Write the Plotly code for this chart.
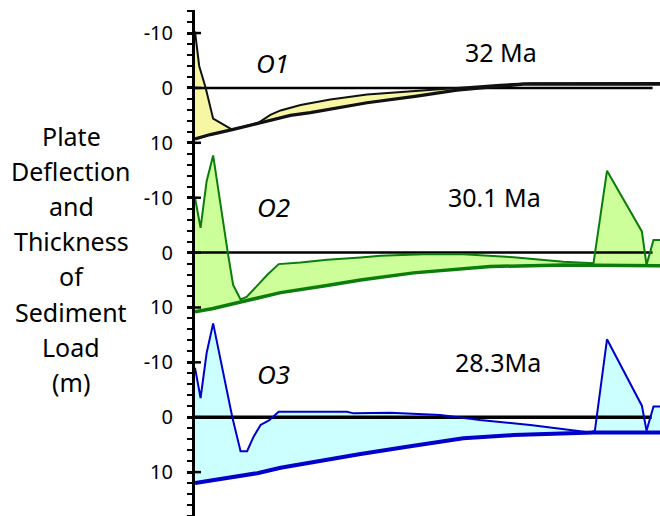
import plotly.graph_objects as go

# ---------------- data (distance along profile, 0-100; values in m, positive = down) ----
O1_sed_x = [0, 0.9, 2.3, 3.9, 8.0, 13.7, 16.2, 18.4, 22.7, 24.8, 29.1, 37.0, 47.7, 56.3, 65.6, 72.1, 100]
O1_sed_y = [-10.3, -4.0, 0.0, 5.6, 7.6, 6.3, 4.9, 4.1, 3.1, 2.8, 2.1, 1.2, 0.6, 0.0, -0.6, -0.85, -0.9]
O1_def_x = [0, 3.3, 8.0, 13.7, 20.5, 24.8, 29.1, 37.0, 47.7, 56.3, 65.6, 70.6, 100]
O1_def_y = [9.3, 8.5, 7.6, 6.4, 5.0, 4.5, 3.9, 2.7, 1.5, 0.4, -0.3, -0.7, -0.7]

O2_sed_x = [0, 1.2, 2.5, 3.9, 7.05, 8.2, 9.8, 11.1, 15.5, 18.0, 22.7, 28.4, 35.6, 39.9, 49.2, 57.7, 68.5, 79.2, 85.7, 88.6, 96.1, 97.1, 98.6, 100]
O2_sed_y = [-10.0, -4.5, -13.0, -17.7, 0.0, 5.9, 8.55, 8.1, 4.1, 2.1, 1.8, 1.3, 0.9, 0.6, 0.3, 0.3, 0.85, 1.65, 1.95, -14.9, -3.85, 2.25, -2.3, -2.3]
O2_def_x = [0, 3.9, 9.8, 18.4, 27.7, 35.6, 47.0, 63.5, 79.2, 100]
O2_def_y = [10.8, 10.2, 9.0, 7.3, 6.1, 5.0, 3.7, 2.55, 2.25, 2.4]

O3_sed_x = [0, 1.2, 2.5, 3.9, 8.0, 9.8, 11.2, 12.6, 14.1, 15.9, 18.0, 32.7, 34.1, 35.6, 42.0, 52.7, 61.3, 72.1, 85.0, 86.0, 88.6, 96.1, 97.1, 98.6, 100]
O3_sed_y = [-9.0, -3.5, -11.7, -17.1, -0.1, 6.2, 6.2, 3.55, 1.4, 0.6, -1.0, -1.0, -0.7, -0.7, -0.8, -0.4, 0.5, 1.4, 2.8, 2.45, -14.2, -2.1, 2.45, -1.95, -1.95]
O3_def_x = [0, 6.2, 13.4, 18.4, 25.5, 29.1, 35.6, 45.6, 57.7, 68.5, 79.2, 85.7, 100]
O3_def_y = [12.0, 11.2, 10.2, 9.2, 8.15, 7.6, 6.7, 5.4, 3.85, 3.25, 3.05, 2.8, 2.8]

PANEL_NAMES = ["O1", "O2", "O3"]
PANEL_AGES = ["32 Ma", "30.1 Ma", "28.3Ma"]

TICK_VALS = [-10, 0, 10, 20, 30, 40, 50, 60, 70]
TICK_TEXT = ["-10", "0", "10", "-10", "0", "10", "-10", "0", "10"]
TITLE_LINES = ["Plate", "Deflection", "and", "Thickness", "of", "Sediment", "Load", "(m)"]

# ---------------- styling ----------------
FONT = "Noto Sans"
W, H = 660, 516
ML, MT = 195, 10
YR = [78.0, -14.2]

panels = [
    dict(sx=O1_sed_x, sy=O1_sed_y, dx=O1_def_x, dy=O1_def_y, off=0,
         line="#111111", fill="#f7f7a3", thin=2, thick=3.2, zend=98.4, zw=2.5,
         lab=(16.6, -4.6), age=(65.8, -6.6)),
    dict(sx=O2_sed_x, sy=O2_sed_y, dx=O2_def_x, dy=O2_def_y, off=30,
         line="#0a7d0a", fill="#ccff99", thin=2, thick=3.5, zend=98.4, zw=2.5,
         lab=(16.9, -8.3), age=(64.4, -10.2)),
    dict(sx=O3_sed_x, sy=O3_sed_y, dx=O3_def_x, dy=O3_def_y, off=60,
         line="#0000cc", fill="#ccffff", thin=2, thick=4, zend=98.2, zw=3.5,
         lab=(16.9, -7.9), age=(65.1, -10.0)),
]

fig = go.Figure()
annotations = []
for i, p in enumerate(panels):
    off = p["off"]
    sy = [v + off for v in p["sy"]]
    dy = [v + off for v in p["dy"]]
    # fill between sediment top and deflected plate
    fig.add_trace(go.Scatter(x=p["sx"] + p["dx"][::-1], y=sy + dy[::-1], mode="lines",
                             fill="toself", fillcolor=p["fill"], line=dict(width=0),
                             hoverinfo="skip", showlegend=False))
    # zero line
    fig.add_trace(go.Scatter(x=[0, p["zend"]], y=[off, off], mode="lines",
                             line=dict(color="black", width=p["zw"]), showlegend=False))
    # sediment surface
    fig.add_trace(go.Scatter(x=p["sx"], y=sy, mode="lines",
                             line=dict(color=p["line"], width=p["thin"]), showlegend=False))
    # plate deflection
    fig.add_trace(go.Scatter(x=p["dx"], y=dy, mode="lines",
                             line=dict(color=p["line"], width=p["thick"]), showlegend=False))
    annotations.append(dict(x=p["lab"][0], y=p["lab"][1] + off, xref="x", yref="y",
                            text="<i>" + PANEL_NAMES[i] + "</i>", showarrow=False,
                            font=dict(family=FONT, size=26, color="black")))
    annotations.append(dict(x=p["age"][0], y=p["age"][1] + off, xref="x", yref="y",
                            text=PANEL_AGES[i], showarrow=False,
                            font=dict(family=FONT, size=25, color="black")))

# left title, one annotation per line
for i, t in enumerate(TITLE_LINES):
    py = 136 + 35.1 * i
    annotations.append(dict(x=(71 - ML) / (W - ML), y=1 - (py - MT) / (H - MT),
                            xref="paper", yref="paper", text=t, showarrow=False,
                            xanchor="center", yanchor="middle",
                            font=dict(family=FONT, size=25, color="black")))

# inner half of the major (crossing) ticks
shapes = [dict(type="line", xref="x", yref="y", xsizemode="pixel", xanchor=0,
               x0=0, x1=6, y0=v, y1=v, line=dict(color="black", width=2.5))
          for v in TICK_VALS]

fig.update_layout(
    width=W, height=H,
    margin=dict(l=ML, r=0, t=MT, b=0),
    plot_bgcolor="white", paper_bgcolor="white",
    showlegend=False,
    annotations=annotations,
    shapes=shapes,
    xaxis=dict(range=[0, 100], visible=False, fixedrange=True),
    yaxis=dict(range=YR, showgrid=False, zeroline=False,
               showline=True, linecolor="black", linewidth=3,
               tickmode="array", tickvals=TICK_VALS, ticktext=TICK_TEXT,
               ticks="outside", ticklen=5, tickwidth=2.5, tickcolor="black",
               ticklabelstandoff=10,
               tickfont=dict(family=FONT, size=20, color="black"),
               minor=dict(dtick=2, ticks="outside", ticklen=5, tickwidth=2,
                          tickcolor="black", showgrid=False)),
)

fig.write_html("out.html")
